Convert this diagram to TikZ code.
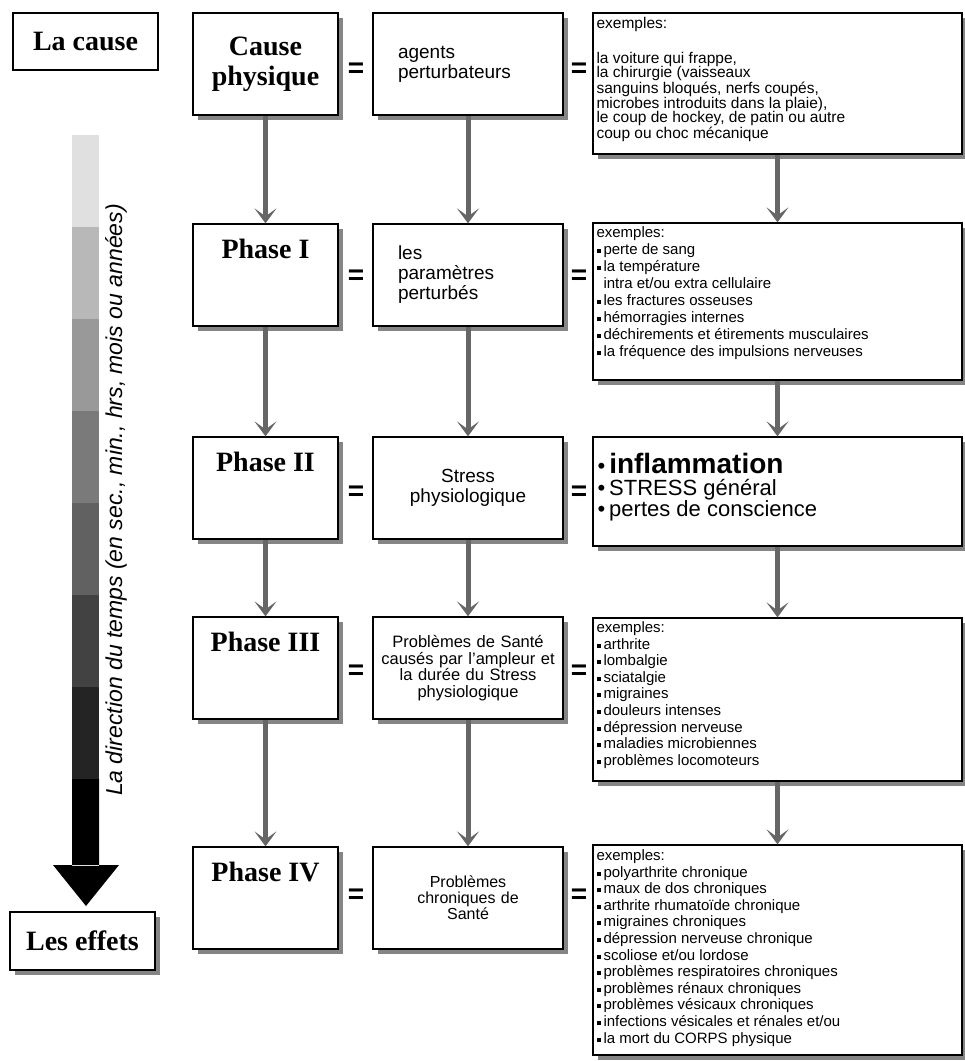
\documentclass[tikz,border=0pt]{standalone}
\usepackage{fontspec}
\setmainfont{Liberation Serif}
\setsansfont{Liberation Sans}
\usetikzlibrary{positioning}
\usetikzlibrary{shadows}
\usetikzlibrary{arrows.meta}

\newcommand{\puce}{\rule[1.5pt]{4pt}{4pt}\hspace{3pt}}

\begin{document}
\begin{tikzpicture}[x=1pt,y=-1pt,
      bloc/.style={draw,rectangle,line width=1.3pt,fill=white,inner sep=0pt,
        drop shadow={shadow xshift=5pt,shadow yshift=-5pt,fill=black!48,opacity=1}},
      gauche/.style={bloc,minimum width=145pt,minimum height=102pt},
      milieu/.style={bloc,minimum width=190pt,minimum height=102pt,text width=140pt,
        font=\sffamily\fontsize{19}{20}\selectfont},
      droite/.style={bloc,minimum width=369pt},
      titre/.style={font=\bfseries\fontsize{28}{30}\selectfont,inner sep=0pt},
      liste/.style={anchor=north west,align=left,inner sep=0pt,
        font=\sffamily\fontsize{15}{16.6}\selectfont},
      egal/.style={font=\sffamily\bfseries\fontsize{28}{28}\selectfont,inner sep=0pt},
      fleche/.style={draw=black!60,line width=5pt,-{Stealth[length=15pt,width=22pt,inset=8pt]}}]
      \useasboundingbox (0,0) rectangle (965,1061);

      % Left column
      \node[draw,line width=1.3pt,minimum width=145pt,minimum height=57pt,titre] (lacause) at (85.5,41.5) {La cause};
      \node[bloc,minimum width=145pt,minimum height=58pt,titre] (effets) at (82.5,941) {Les effets};

      % Time arrow
      \foreach \g [count=\i] in {12,28,40,52,62,74,86}
        \fill[black!\g] (72,{135+(\i-1)*92}) rectangle (99,{135+\i*92});
      \fill[black] (72,779) rectangle (99,866) (53,865) -- (119,865) -- (86,906) -- cycle;
      \node[rotate=90,inner sep=0pt,font=\sffamily\itshape\fontsize{23}{23}\selectfont] (temps) at (116,500)
        {La direction du temps (en sec., min., hrs, mois ou années)};

      % Blocks, column 1
      \node[gauche,titre,align=center] (cause)    at (265.5,64)  {Cause\\physique};
      \node[gauche]                    (phaseI)   at (265.5,275) {};
      \node[gauche]                    (phaseII)  at (265.5,488) {};
      \node[gauche]                    (phaseIII) at (265.5,668) {};
      \node[gauche]                    (phaseIV)  at (265.5,898) {};
      \node[titre,below=16pt of phaseI.north]   (tI)   {Phase I};
      \node[titre,below=16pt of phaseII.north]  (tII)  {Phase II};
      \node[titre,below=16pt of phaseIII.north] (tIII) {Phase III};
      \node[titre,below=16pt of phaseIV.north]  (tIV)  {Phase IV};

      % Blocks, column 2
      \node[milieu,align=left]   (agents) at (468,64)  {agents\\perturbateurs};
      \node[milieu,align=left]   (params) at (468,275) {les\\paramètres\\perturbés\\[-4pt]};
      \node[milieu,align=center] (stress) at (468,488) {Stress\\physiologique};
      \node[milieu,align=center,text width=182pt,font=\sffamily\fontsize{16.5}{16.5}\selectfont] (sante) at (468,668)
        {Problèmes de Santé\\causés par l'ampleur et\\la durée du Stress\\physiologique};
      \node[milieu,align=center,font=\sffamily\fontsize{16}{16}\selectfont] (chron) at (468,898)
        {Problèmes\\chroniques de\\Santé};

      % Blocks, column 3
      \node[droite,minimum height=141pt] (ex1) at (777.5,83.5)  {};
      \node[droite,minimum height=157pt] (ex2) at (777.5,301.5) {};
      \node[droite,minimum height=109pt] (ex3) at (777.5,491.5) {};
      \node[droite,minimum height=163pt] (ex4) at (777.5,699.5) {};
      \node[droite,minimum height=210pt] (ex5) at (777.5,950)   {};

      \node[liste,font=\sffamily\fontsize{15.5}{14.6}\selectfont] (ex1t) at ([xshift=4pt,yshift=-5pt]ex1.north west)
        {exemples:\\[20pt]la voiture qui frappe,\\la chirurgie (vaisseaux\\sanguins bloqués, nerfs coupés,\\
         microbes introduits dans la plaie),\\le coup de hockey, de patin ou autre\\coup ou choc mécanique};
      \node[liste,font=\sffamily\fontsize{15}{17}\selectfont] (ex2t) at ([xshift=4pt,yshift=-4pt]ex2.north west)
        {exemples:\\\puce perte de sang\\\puce la température\\\hspace{7pt}intra et/ou extra cellulaire\\
         \puce les fractures osseuses\\\puce hémorragies internes\\
         \puce déchirements et étirements musculaires\\\puce la fréquence des impulsions nerveuses};
      \node[liste,font=\sffamily\fontsize{22}{21.5}\selectfont] (ex3t) at ([xshift=5pt,yshift=-17pt]ex3.north west)
        {•\hspace{4pt}{\fontsize{28}{21.5}\selectfont\bfseries inflammation}\\
         •\hspace{4pt}STRESS général\\•\hspace{4pt}pertes de conscience};
      \node[liste] (ex4t) at ([xshift=4pt,yshift=-4pt]ex4.north west)
        {exemples:\\\puce arthrite\\\puce lombalgie\\\puce sciatalgie\\\puce migraines\\
         \puce douleurs intenses\\\puce dépression nerveuse\\\puce maladies microbiennes\\
         \puce problèmes locomoteurs};
      \node[liste] (ex5t) at ([xshift=4pt,yshift=-5pt]ex5.north west)
        {exemples:\\\puce polyarthrite chronique\\\puce maux de dos chroniques\\
         \puce arthrite rhumatoïde chronique\\\puce migraines chroniques\\
         \puce dépression nerveuse chronique\\\puce scoliose et/ou lordose\\
         \puce problèmes respiratoires chroniques\\\puce problèmes rénaux chroniques\\
         \puce problèmes vésicaux chroniques\\\puce infections vésicales et rénales et/ou\\
         \puce la mort du CORPS physique};

      % Equal signs
      \foreach \y/\r in {70/1,277/2,493/3,672/4,896/5} {
        \node[egal] (ega\r) at (356,\y) {=};
        \node[egal] (egb\r) at (579,\y) {=};
      }

      % Arrows
      \draw[fleche] (cause)    -- (phaseI);
      \draw[fleche] (phaseI)   -- (phaseII);
      \draw[fleche] (phaseII)  -- (phaseIII);
      \draw[fleche] (phaseIII) -- (phaseIV);
      \draw[fleche] (agents)   -- (params);
      \draw[fleche] (params)   -- (stress);
      \draw[fleche] (stress)   -- (sante);
      \draw[fleche] (sante)    -- (chron);
      \draw[fleche] (ex1)      -- (ex2);
      \draw[fleche] (ex2)      -- (ex3);
      \draw[fleche] (ex3)      -- (ex4);
      \draw[fleche] (ex4)      -- (ex5);

    \end{tikzpicture}
\end{document}
